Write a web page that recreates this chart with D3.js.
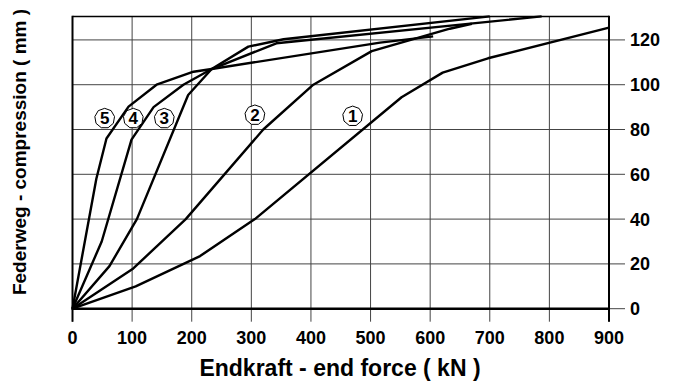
<!DOCTYPE html>
<html><head><meta charset="utf-8">
<script src="https://cdn.jsdelivr.net/npm/d3@7"></script>
<style>body{margin:0;background:#fff}svg{display:block}text{font-family:"Liberation Sans",Arial,Helvetica,sans-serif;font-weight:bold;fill:#000}</style>
</head><body><svg id="c" width="680" height="385"></svg>
<script>
const xTicks = [0,100,200,300,400,500,600,700,800,900];
const yTicks = [0,20,40,60,80,100,120];
const curve1 = [[0,0],[106,10],[214,23.5],[306,40],[552,94.4],[621,105.4],[697,111.8],[900,125.5]];
const curve2 = [[0,0],[102,18],[190,40],[320,80],[404,100],[502,115],[633,125],[670,127.2]];
const curve3 = [[0,0],[62,19],[108,40],[194,95.4],[233.5,107],[295,117],[354,120.3],[700,130.5]];
const curve4 = [[0,0],[49,30],[99,75.5],[136,90],[186,100],[233.5,107],[342,118.5],[787,130.5]];
const curve5 = [[0,0],[40,58],[57,76],[94,90.2],[141,100],[203,105.8],[233.5,107],[516,118.8],[605,121.6]];
const labels = ["5","4","3","2","1"];
const labelPos = [[54,85],[102,85],[154,85],[306,86.5],[470,86]];
const xTitle = "Endkraft - end force ( kN )";
const yTitle = "Federweg - compression ( mm )";

const svg = d3.select("#c");
const x = d3.scaleLinear().domain([0,900]).range([72.5,609]);
const y = d3.scaleLinear().domain([0,130.5]).range([308.7,16.4]);

// grid
const g = svg.append("g");
g.selectAll(".vg").data(xTicks).join("line")
  .attr("x1",d=>x(d)).attr("x2",d=>x(d)).attr("y1",y(130.5)).attr("y2",y(0)+13)
  .attr("stroke","#444").attr("stroke-width",1);
g.selectAll(".hg").data(yTicks).join("line")
  .attr("x1",x(0)).attr("x2",x(900)+16).attr("y1",d=>y(d)).attr("y2",d=>y(d))
  .attr("stroke","#444").attr("stroke-width",1);

// frame
svg.append("line").attr("x1",x(0)).attr("x2",x(900)).attr("y1",y(130.5)).attr("y2",y(130.5)).attr("stroke","#000").attr("stroke-width",1.5);
svg.append("line").attr("x1",x(0)).attr("x2",x(0)).attr("y1",y(130.5)-0.7).attr("y2",y(0)+13).attr("stroke","#000").attr("stroke-width",2);
svg.append("line").attr("x1",x(900)).attr("x2",x(900)).attr("y1",y(130.5)-0.7).attr("y2",y(0)+13).attr("stroke","#000").attr("stroke-width",2);
svg.append("line").attr("x1",x(0)-1).attr("x2",x(900)+1).attr("y1",y(0)).attr("y2",y(0)).attr("stroke","#000").attr("stroke-width",2.5);

// tick labels
svg.selectAll(".xt").data(xTicks).join("text")
  .attr("x",d=>x(d)).attr("y",344).attr("text-anchor","middle").attr("font-size",18).text(d=>d);
svg.selectAll(".yt").data(yTicks).join("text")
  .attr("x",630).attr("y",d=>y(d)+6.5).attr("text-anchor","start").attr("font-size",18).text(d=>d);

// titles
svg.append("text").attr("x",340).attr("y",376).attr("text-anchor","middle").attr("font-size",23).text(xTitle);
svg.append("text").attr("transform","translate(26,152) rotate(-90)").attr("text-anchor","middle").attr("font-size",19).text(yTitle);

// curves
const line = d3.line().x(d=>x(d[0])).y(d=>y(d[1]));
[curve1,curve2,curve3,curve4,curve5].forEach(c=>{
  svg.append("path").attr("d",line(c)).attr("fill","none").attr("stroke","#000").attr("stroke-width",2.4).attr("stroke-linejoin","round");
});

// labels
const R = 10, N = 9;
labels.forEach((l,i)=>{
  const cx = x(labelPos[i][0]), cy = y(labelPos[i][1]);
  const pts = d3.range(N).map(k=>{const a = -Math.PI/2 + k*2*Math.PI/N; return [cx+R*Math.cos(a), cy+R*Math.sin(a)];});
  svg.append("polygon").attr("points",pts.map(p=>p.join(",")).join(" ")).attr("fill","#fff").attr("stroke","#000").attr("stroke-width",1);
  svg.append("text").attr("x",cx).attr("y",cy+6).attr("text-anchor","middle").attr("font-size",17).text(l);
});
</script></body></html>
